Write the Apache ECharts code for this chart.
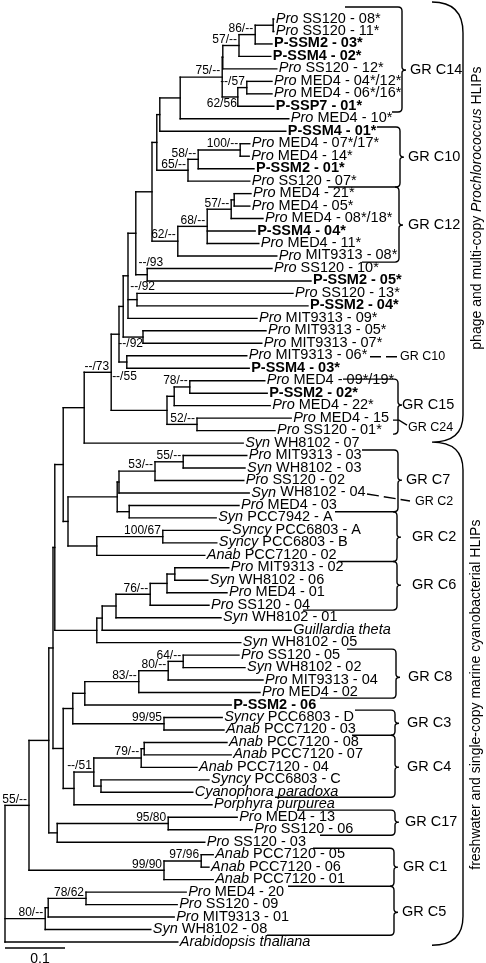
<!DOCTYPE html>
<html><head><meta charset="utf-8">
<script src="https://cdn.jsdelivr.net/npm/echarts@6/dist/echarts.min.js"></script>
<style>html,body{margin:0;padding:0;background:#fff}#c{width:486px;height:963px}</style>
</head><body><div id="c"></div>
<script>
// ---------- Leaves (top to bottom) ----------
const leafGenus = ['Pro','Pro','','','Pro','Pro','Pro','','Pro','',
  'Pro','Pro','','Pro','Pro','Pro','Pro','','Pro','Pro',
  'Pro','','Pro','','Pro','Pro','Pro','Pro','','Pro',
  '','Pro','Pro','Pro','Syn','Pro','Syn','Pro','Syn','Pro',
  'Syn','Syncy','Syncy','Anab','Pro','Syn','Pro','Pro','Syn','',
  'Syn','Pro','Syn','Pro','Pro','','Syncy','Anab','Anab','Anab',
  'Anab','Syncy','','','Pro','Pro','Pro','Anab','Anab','Anab',
  'Pro','Pro','Pro','Syn',''];
const leafName = ['SS120 - 08*','SS120 - 11*','P-SSM2 - 03*','P-SSM4 - 02*','SS120 - 12*','MED4 - 04*/12*','MED4 - 06*/16*','P-SSP7 - 01*','MED4 - 10*','P-SSM4 - 01*',
  'MED4 - 07*/17*','MED4 - 14*','P-SSM2 - 01*','SS120 - 07*','MED4 - 21*','MED4 - 05*','MED4 - 08*/18*','P-SSM4 - 04*','MED4 - 11*','MIT9313 - 08*',
  'SS120 - 10*','P-SSM2 - 05*','SS120 - 13*','P-SSM2 - 04*','MIT9313 - 09*','MIT9313 - 05*','MIT9313 - 07*','MIT9313 - 06*','P-SSM4 - 03*','MED4 - 09*/19*',
  'P-SSM2 - 02*','MED4 - 22*','MED4 - 15','SS120 - 01*','WH8102 - 07','MIT9313 - 03','WH8102 - 03','SS120 - 02','WH8102 - 04','MED4 - 03',
  'PCC7942 - A','PCC6803 - A','PCC6803 - B','PCC7120 - 02','MIT9313 - 02','WH8102 - 06','MED4 - 01','SS120 - 04','WH8102 - 01','Guillardia theta',
  'WH8102 - 05','SS120 - 05','WH8102 - 02','MIT9313 - 04','MED4 - 02','P-SSM2 - 06','PCC6803 - D','PCC7120 - 03','PCC7120 - 08','PCC7120 - 07',
  'PCC7120 - 04','PCC6803 - C','Cyanophora paradoxa','Porphyra purpurea','MED4 - 13','SS120 - 06','SS120 - 03','PCC7120 - 05','PCC7120 - 06','PCC7120 - 01',
  'MED4 - 20','SS120 - 09','MIT9313 - 01','WH8102 - 08','Arabidopsis thaliana'];
// b = bold phage gene, i = whole name italic, '' = italic genus + plain name
const leafStyle = ['','','b','b','','','','b','','b',
  '','','b','','','','','b','','',
  '','b','','b','','','','','b','',
  'b','','','','','','','','','',
  '','','','','','','','','','i',
  '','','','','','b','','','','',
  '','','i','i','','','','','','',
  '','','','','i'];
// tip position = distance from root (substitutions per site)
const leafTip = [0.448,0.448,0.445,0.443,0.453,0.445,0.445,0.448,0.473,0.468,
  0.408,0.407,0.415,0.408,0.410,0.408,0.430,0.417,0.423,0.453,
  0.445,0.510,0.480,0.505,0.420,0.435,0.428,0.403,0.407,0.433,
  0.437,0.442,0.477,0.450,0.397,0.403,0.400,0.398,0.407,0.390,
  0.352,0.375,0.353,0.333,0.373,0.338,0.370,0.340,0.360,0.477,
  0.393,0.390,0.400,0.430,0.425,0.377,0.362,0.365,0.370,0.377,
  0.320,0.340,0.313,0.345,0.387,0.412,0.333,0.347,0.340,0.347,
  0.302,0.287,0.282,0.243,0.288];

// ---------- Internal nodes (children listed before parents) ----------
const nodeIds = ['A','B','C','D1','F','G','D','H','I','J','K','L','M','N1','N2','O','P','Q','R','S1','S','Z3','U','Z2','V','Z',
  'X1','X2','X3','X4','Y','AA','TT1','TT2','TT3','TT4','TT5','UU1','UU2','CC','BB',
  'GG1','GG2','GG3','GG4','GG5','FF','EE','LL1','LL2','LL3','LL4','LL5','JJ','MM1','MM2','MM4','MM3','MM5','II','HH',
  'NN1','NN2','OO','PP1','PP2','QQ','SS1','SS2','SS3','ROOT'];
const nodeDepth = [0.447,0.417,0.390,0.363,0.403,0.388,0.362,0.292,0.258,0.392,0.322,0.305,0.253,0.382,0.377,0.337,0.288,0.245,0.237,0.218,0.220,0.205,0.230,0.197,0.203,0.190,
  0.308,0.282,0.320,0.270,0.177,0.132,0.297,0.250,0.190,0.207,0.187,0.263,0.153,0.105,0.097,
  0.283,0.270,0.242,0.185,0.162,0.153,0.083,0.297,0.272,0.223,0.133,0.265,0.113,0.232,0.227,0.160,0.148,0.115,0.097,0.080,
  0.272,0.087,0.073,0.327,0.265,0.040,0.135,0.072,0.067,0];
const nodeKids = [[0,1],['A',2],['B',3],['C',4],[5,6],['F',7],['D1','G'],['D',8],['H',9],[10,11],['J',12],['K',13],['I','L'],[14,15],['N1',16],['N2',17,18],['O',19],['M','P'],[20,21],['Q','R'],[22,23],['S1','S',24],[25,26],['Z3','U'],[27,28],['Z2','V'],
  [29,30],['X1',31],[32,33],['X2','X3'],['Z','X4'],['Y',34],[35,36],['TT1',37],['TT2',38],[39,40],['TT3','TT4'],[41,42],['UU1',43],['TT5','UU2'],['AA','CC'],
  [44,45],['GG1',46],['GG2',47],['GG3',48],['GG4',49],['GG5',50],['BB','FF'],[51,52],['LL1',53],['LL2',54],['LL3',55],[56,57],['LL4','LL5'],[58,59],['MM1',60],[61,62],['MM2','MM4'],['MM3',63],['JJ','MM5'],['EE','II'],
  [64,65],['NN1',66],['HH','NN2'],[67,68],['PP1',69],['OO','PP2'],[70,71],['SS1',72],['SS2',73],['QQ','SS3',74]];
const nodeSupport = ['','86/--','57/--','','--/57','62/56','75/--','','','100/--','58/--','65/--','','','57/--','68/--','62/--','','--/93','','--/92','','--/92','','--/55','',
  '78/--','','52/--','','--/73','','55/--','53/--','','','','100/67','','','',
  '','','76/--','','','','','64/--','80/--','83/--','','99/95','','','79/--','','--/51','','','',
  '95/80','','','97/96','99/90','55/--','78/62','','80/--',''];
const scaleBarLength = 0.1;

// ---------- Clade annotations (spans in leaf-row units) ----------
const groupNames  = ['GR C14','GR C10','GR C12','GR C15','GR C7','GR C2','GR C6','GR C8','GR C3','GR C4','GR C17','GR C1','GR C5'];
const groupTop    = [-0.96, 8.66, 13.47, 28.87, 34.56, 39.5, 43.5, 50.52, 55.41, 57.42, 63.43, 66.48, 69.53];
const groupBottom = [7.46, 13.47, 19.49, 33.28, 39.5, 43.5, 47.39, 54.45, 57.42, 62.39, 65.44, 69.53, 73.46];
const groupCusp   = [4.09, 11.07, 16.52, 30.95, 36.97, 41.54, 45.39, 52.77, 56.46, 59.98, 64.39, 68.0, 71.61];

// ---------- layout / style (pixels) ----------
const bracketX  = [402,400,399,398,398,397,397,396,395,395,395,394,394];
const leadTop   = [345,377,null,343,362,null,null,347,355,null,297,313,null];
const leadBottom= [392,328,362,393,335,338,303,320,352,275,320,288,267];
const groupLabelX = [410,408,408,402,406,412,412,408,407,407,405,403,402];
const supportOffset = {G:[-1,6.5], U:[0,7], V:[10,15], R:[16,-11.6], S:[18,-12.6]};

const F = '"Liberation Sans", Arial, Helvetica, sans-serif';
const LFS = 14.5;
const rich = {
  it:{fontStyle:'italic', fontSize:LFS, fontFamily:F, fill:'#000'},
  bd:{fontWeight:'bold', fontSize:LFS, fontFamily:F, fill:'#000'},
  n:{fontSize:LFS, fontFamily:F, fill:'#000'}
};
const rich14 = {
  it:{fontStyle:'italic', fontSize:14, fontFamily:F, fill:'#000'},
  n:{fontSize:14, fontFamily:F, fill:'#000'}
};

// ---------- build tree geometry ----------
const nodeIndex = {}; nodeIds.forEach((id,i)=>nodeIndex[id]=i);
const nodeY = [];
const yOf = r => typeof r === 'number' ? r : nodeY[nodeIndex[r]];
const xOf = r => typeof r === 'number' ? leafTip[r] : nodeDepth[nodeIndex[r]];
nodeIds.forEach((id,i)=>{ const k=nodeKids[i]; nodeY[i]=(yOf(k[0])+yOf(k[k.length-1]))/2; });
const segs = [];
nodeIds.forEach((id,i)=>{
  const ys = nodeKids[i].map(yOf);
  segs.push([nodeDepth[i], Math.min(...ys), nodeDepth[i], Math.max(...ys)]);
  nodeKids[i].forEach(k=>segs.push([nodeDepth[i], yOf(k), xOf(k), yOf(k)]));
});
const supportData = [];
nodeIds.forEach((id,i)=>{ if(nodeSupport[i]) supportData.push([nodeDepth[i], nodeY[i], i]); });

function leafText(i){
  if(leafStyle[i]==='b') return '{bd|'+leafName[i]+'}';
  if(leafStyle[i]==='i') return '{it|'+leafName[i]+'}';
  return '{it|'+leafGenus[i]+'}{n| '+leafName[i]+'}';
}

const LS = {stroke:'#000', fill:null, lineWidth:1.4};
function txt(x,y,text,size,extra){
  return Object.assign({type:'text', x:x, y:y, style:{text:text, fontSize:size, fontFamily:F, fill:'#000', align:'left', verticalAlign:'middle'}}, extra||{});
}
function annotations(api){
  const yp = v => api.coord([0, v])[1];
  const ch = [];
  groupNames.forEach((name,k)=>{
    const bx=bracketX[k], t=yp(groupTop[k]), b=yp(groupBottom[k]), c=yp(groupCusp[k]), r=4;
    const lt = leadTop[k]==null ? bx-r : leadTop[k];
    const lb = leadBottom[k]==null ? bx-r : leadBottom[k];
    const d = `M${lt},${t} L${bx-r},${t} Q${bx},${t} ${bx},${t+r} L${bx},${c-3} Q${bx},${c} ${bx+4},${c} Q${bx},${c} ${bx},${c+3} L${bx},${b-r} Q${bx},${b} ${bx-r},${b} L${lb},${b}`;
    ch.push({type:'path', shape:{pathData:d}, style:LS});
    ch.push(txt(groupLabelX[k], c, name, 14.5));
  });
  const y27 = yp(27), y32 = yp(32), y38 = yp(38);
  ch.push({type:'line', shape:{x1:370,y1:y27+1,x2:397,y2:y27+1}, style:{stroke:'#000', lineWidth:1.4, lineDash:[11,5]}});
  ch.push(txt(400, y27+1, 'GR C10', 12.5));
  ch.push({type:'polyline', shape:{points:[[393,y32+2],[399,y32+2],[407,y32+7]]}, style:LS});
  ch.push(txt(408, y32+9, 'GR C24', 12.5));
  ch.push({type:'line', shape:{x1:367,y1:y38+1,x2:410,y2:y38+8}, style:{stroke:'#000', lineWidth:1.4, lineDash:[12,5]}});
  ch.push(txt(415, y38+9, 'GR C2', 12.5));
  const bTop = yp(-1.36), bMid = yp(33.92), bBot = yp(74.26);
  ch.push({type:'path', style:LS, shape:{pathData:
    `M432,${bTop} Q463,${bTop} 463,${bTop+31} L463,${bMid-27} Q463,${bMid} 432,${bMid} Q463,${bMid} 463,${bMid+28} L463,${bBot-29} Q463,${bBot} 432,${bBot}`}});
  ch.push({type:'text', x:477, y:(bTop+bMid)/2-14, rotation:Math.PI/2,
    style:{text:'{n|phage and multi-copy }{it|Prochlorococcus}{n| HLIPs}', rich:rich14, fontSize:14, fontFamily:F, fill:'#000', align:'center', verticalAlign:'middle'}});
  ch.push({type:'text', x:476, y:(bMid+bBot)/2+1, rotation:Math.PI/2,
    style:{text:'{n|freshwater and single-copy marine cyanobacterial HLIPs}', rich:rich14, fontSize:14, fontFamily:F, fill:'#000', align:'center', verticalAlign:'middle'}});
  return {type:'group', children:ch};
}

const chart = echarts.init(document.getElementById('c'), null, {renderer:'canvas', width:486, height:963});
const option = {
  animation:false,
  backgroundColor:'#fff',
  grid:{left:5, top:19, width:480, height:923},
  xAxis:{type:'value', min:0, max:0.8, show:false},
  yAxis:{type:'value', min:0, max:74, inverse:true, show:false},
  series:[
    {type:'custom', name:'branches', data:segs, encode:{x:[0,2], y:[1,3]}, silent:true,
      renderItem:(p,api)=>{
        const a=api.coord([api.value(0),api.value(1)]), b=api.coord([api.value(2),api.value(3)]);
        return {type:'line', shape:{x1:a[0],y1:a[1],x2:b[0],y2:b[1]}, style:{stroke:'#000', lineWidth:1.4, lineCap:'square'}};
      }},
    {type:'custom', name:'leaves', data:leafTip.map((t,i)=>[t,i]), encode:{x:0,y:1}, silent:true,
      renderItem:(p,api)=>{
        const i=p.dataIndex, c=api.coord([api.value(0),api.value(1)]);
        return {type:'text', x:c[0]+2, y:c[1]-0.5, style:{text:leafText(i), rich:rich, fontSize:LFS, fontFamily:F, fill:'#000', align:'left', verticalAlign:'middle'}};
      }},
    {type:'custom', name:'support', data:supportData, encode:{x:0,y:1}, silent:true,
      renderItem:(p,api)=>{
        const i=api.value(2), c=api.coord([api.value(0),api.value(1)]);
        const off = supportOffset[nodeIds[i]] || [-2,-6];
        return {type:'text', x:c[0]+off[0], y:c[1]+off[1], style:{text:nodeSupport[i], fontSize:12, fontFamily:F, fill:'#000', align:'right', verticalAlign:'middle'}};
      }},
    {type:'custom', name:'scale', data:[[0, 74.48, scaleBarLength]], encode:{x:0,y:1}, silent:true,
      renderItem:(p,api)=>{
        const a=api.coord([api.value(0),api.value(1)]), b=api.coord([api.value(0)+api.value(2),api.value(1)]);
        return {type:'group', children:[
          {type:'line', shape:{x1:a[0],y1:a[1],x2:b[0],y2:b[1]}, style:{stroke:'#000', lineWidth:1.4}},
          {type:'text', x:(a[0]+b[0])/2+5, y:a[1]+11, style:{text:String(api.value(2)), fontSize:14, fontFamily:F, fill:'#000', align:'center', verticalAlign:'middle'}}
        ]};
      }},
    {type:'custom', name:'annotations', data:[[0,0]], encode:{x:0,y:1}, silent:true,
      renderItem:(p,api)=>annotations(api)}
  ]
};
chart.setOption(option);
</script></body></html>
